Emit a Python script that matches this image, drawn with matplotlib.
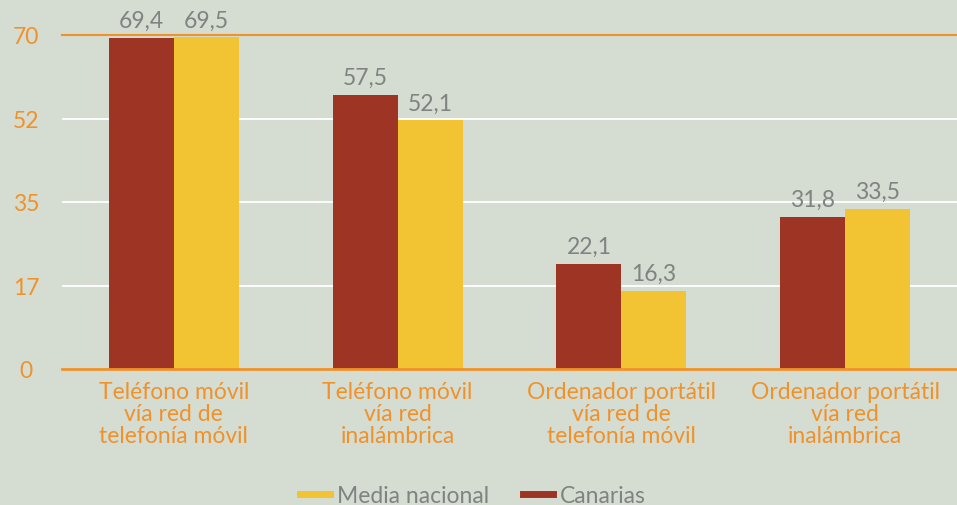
import matplotlib.pyplot as plt
from matplotlib.lines import Line2D
import numpy as np

plt.rcParams['font.family'] = ['Lato', 'DejaVu Sans']

# data
categories = ["Teléfono móvil\nvía red de\ntelefonía móvil",
              "Teléfono móvil\nvía red\ninalámbrica",
              "Ordenador portátil\nvía red de\ntelefonía móvil",
              "Ordenador portátil\nvía red\ninalámbrica"]
canarias = [69.4, 57.5, 22.1, 31.8]
media_nacional = [69.5, 52.1, 16.3, 33.5]
yticks = [0, 17.5, 35, 52.5, 70]
ytick_labels = ["0", "17", "35", "52", "70"]

bg = "#d5dcd2"
red = "#9e3524"
yellow = "#f2c433"
orange = "#f0922a"
gray = "#7f8381"
fs = 16.5

fig = plt.figure(figsize=(9.57, 5.06), dpi=100, facecolor=bg)
ax = fig.add_axes([62 / 957, 136 / 506, 895 / 957, 334 / 506])
ax.set_facecolor(bg)

x = np.arange(len(categories))
w = 0.29
b1 = ax.bar(x - w / 2, canarias, w, color=red, zorder=3)
b2 = ax.bar(x + w / 2, media_nacional, w, color=yellow, zorder=3)

for bars, vals in ((b1, canarias), (b2, media_nacional)):
    for bar, v in zip(bars, vals):
        ax.annotate(f"{v:.1f}".replace(".", ","),
                    (bar.get_x() + bar.get_width() / 2, bar.get_height()),
                    xytext=(0, 5), textcoords="offset points",
                    ha="center", va="bottom", fontsize=fs, color=gray)

ax.set_xlim(-0.5, len(categories) - 0.5)
ax.set_ylim(0, 70)
ax.set_yticks(yticks)
ax.set_yticklabels(ytick_labels)
ax.set_xticks(x)
ax.set_xticklabels(categories)
ax.tick_params(axis="y", length=0, pad=26, labelsize=fs, labelcolor=orange)
ax.tick_params(axis="x", length=0, pad=9, labelsize=fs, labelcolor=orange)
for lab in ax.get_xticklabels():
    lab.set_linespacing(1.05)
for lab in ax.get_yticklabels():
    lab.set_horizontalalignment("center")

for y in yticks[1:-1]:
    ax.axhline(y, color="white", lw=1.3, zorder=1)
ax.axhline(70, color=orange, lw=1.5, zorder=2, clip_on=False)

for s in ["top", "right", "left"]:
    ax.spines[s].set_visible(False)
ax.spines["bottom"].set_color(orange)
ax.spines["bottom"].set_linewidth(2)
ax.spines["bottom"].set_zorder(4)

handles = [Line2D([], [], color=yellow, lw=5),
           Line2D([], [], color=red, lw=5)]
fig.legend(handles, ["Media nacional", "Canarias"], loc="center",
           bbox_to_anchor=(0.494, 0.018), ncol=2, frameon=False,
           fontsize=fs, labelcolor=gray, handlelength=1.3,
           handletextpad=0.3, columnspacing=1.5)

fig.savefig("out.png", dpi=100, facecolor=bg)
